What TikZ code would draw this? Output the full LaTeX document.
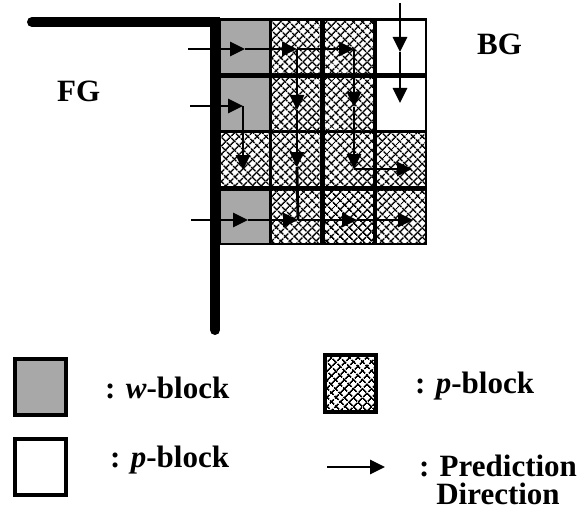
\documentclass[tikz,border=0pt]{standalone}
\usepackage{fontspec}
\setmainfont{Liberation Serif}
\usetikzlibrary{arrows.meta,patterns.meta}
\definecolor{wgray}{RGB}{168,168,168}

\begin{document}
\begin{tikzpicture}[x = 1pt, y = -1pt,
  cell/.style = {rectangle, inner sep = 0, minimum width = 48, minimum height = 52},
  wblk/.style = {cell, fill = wgray},
  oblk/.style = {cell, fill = white},
  pblk/.style = {cell, fill = white,
    postaction = {pattern = {Lines[angle = 45, distance = 6.5pt, line width = 1.8pt]}},
    postaction = {pattern = {Lines[angle = -45, distance = 6.5pt, line width = 1.8pt]}}},
  key/.style = {draw, line width = 4pt, inner sep = 0, minimum width = 51, minimum height = 56},
  txt/.style = {inner sep = 0, font = \fontsize{31}{28}\selectfont\bfseries},
  flow/.style = {line width = 2.8pt, -{Triangle[length = 15pt, width = 14pt]}},
  wire/.style = {line width = 2.8pt},
  edge/.style = {line width = 10pt, line cap = round}]
  \useasboundingbox (0,0) rectangle (579,511);

  \node (grid) [fill = black, inner sep = 0, minimum width = 209, minimum height = 227] at (322.5,131.5) {};
  \node (c11) [wblk] at (244.5,47.5) {};
  \node (c12) [pblk] at (295.5,47.5) {};
  \node (c13) [pblk] at (349,47.5) {};
  \node (c14) [oblk] at (401,47.5) {};
  \node (c21) [wblk] at (244.5,104.5) {};
  \node (c22) [pblk] at (295.5,104.5) {};
  \node (c23) [pblk] at (349,104.5) {};
  \node (c24) [oblk] at (401,104.5) {};
  \node (c31) [pblk] at (244.5,159.5) {};
  \node (c32) [pblk] at (295.5,159.5) {};
  \node (c33) [pblk] at (349,159.5) {};
  \node (c34) [pblk] at (401,159.5) {};
  \node (c41) [wblk] at (244.5,216.5) {};
  \node (c42) [pblk] at (295.5,216.5) {};
  \node (c43) [pblk] at (349,216.5) {};
  \node (c44) [pblk] at (401,216.5) {};

  \coordinate (b0) at (32,22);
  \coordinate (b1) at (215,22);
  \coordinate (b2) at (215,330);
  \draw [edge] (b0) -- (b1) -- (b2);

  \node (fg) [txt, anchor = base west] at (57,102) {FG};
  \node (bg) [txt, anchor = base west] at (477,55) {BG};

  \coordinate (in1) at (188,49);
  \coordinate (in2) at (190,106);
  \coordinate (in4) at (191,220);
  \coordinate (in0) at (400,3);
  \coordinate (t11) at (245,49);
  \coordinate (t12) at (297,49);
  \coordinate (t13) at (354,49);
  \coordinate (t14) at (400,52);
  \coordinate (t21) at (243,106);
  \coordinate (t22) at (297,110);
  \coordinate (t23) at (354,107);
  \coordinate (t24) at (400,103);
  \coordinate (t31) at (243,170);
  \coordinate (t32) at (297,167);
  \coordinate (t33) at (354,169);
  \coordinate (t34) at (412,169);
  \coordinate (t41) at (248,220);
  \coordinate (t42) at (298,220);
  \coordinate (t43) at (357,220);
  \coordinate (t44) at (413,220);
  \draw [flow] (in1) -- (t11);
  \draw [flow] (t11) -- (t12);
  \draw [flow] (t12) -- (t13);
  \draw [flow] (t12) -- (t22);
  \draw [flow] (t22) -- (t32);
  \draw [wire] (t32) -- (t42);
  \draw [flow] (t13) -- (t23);
  \draw [flow] (t23) -- (t33);
  \draw [flow] (t33) -- (t34);
  \draw [flow] (in2) -- (t21);
  \draw [flow] (t21) -- (t31);
  \draw [flow] (in4) -- (t41);
  \draw [flow] (t41) -- (t42);
  \draw [flow] (t42) -- (t43);
  \draw [flow] (t43) -- (t44);
  \draw [flow] (in0) -- (t14);
  \draw [flow] (t14) -- (t24);

  \node (kw) [key, fill = wgray] at (40.5,387) {};
  \node (ko) [key, fill = white] at (40.5,467) {};
  \node (kp) [key, pblk, draw, line width = 4pt, minimum width = 51, minimum height = 57] at (350.5,383.5) {};
  \node (lw) [txt, anchor = base west] at (105,398) {: \textit{w}-block};
  \node (lo) [txt, anchor = base west] at (110,467) {: \textit{p}-block};
  \node (lp) [txt, anchor = base west] at (415,393) {: \textit{p}-block};
  \coordinate (la) at (327,467);
  \coordinate (lb) at (385,467);
  \draw [flow] (la) -- (lb);
  \node (ld) [txt, align = center, anchor = base] at (498,504) {: Prediction\\Direction};
\end{tikzpicture}
\end{document}
